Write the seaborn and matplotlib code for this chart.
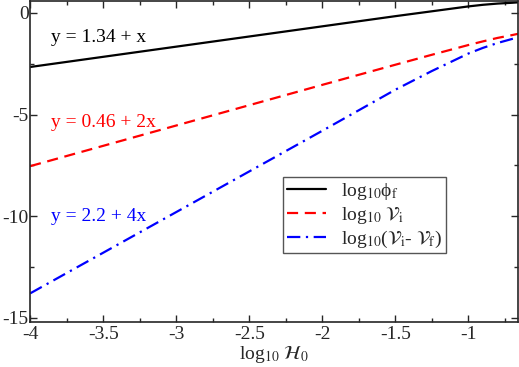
import numpy as np
import pandas as pd
import matplotlib
matplotlib.use("Agg")
import matplotlib.pyplot as plt
import seaborn as sns
from matplotlib.ticker import MultipleLocator, FormatStrFormatter

# values
log_H0 = [-4.0, -3.5, -3.0, -2.5, -2.0, -1.5, -1.25, -1.0, -0.9, -0.8, -0.7, -0.66]
log_phi_f = [-2.66, -2.16, -1.66, -1.16, -0.66, -0.16, 0.08, 0.32, 0.40, 0.46, 0.50, 0.52]
log_V_i = [-7.54, -6.54, -5.54, -4.54, -3.54, -2.55, -2.06, -1.58, -1.40, -1.23, -1.09, -1.03]
log_dV = [-13.8, -11.8, -9.8, -7.8, -5.8, -3.78, -2.86, -2.0, -1.72, -1.48, -1.28, -1.2]

labels = [r'log$_{10}$ϕ$_{\rm f}$',
          r'log$_{10}$ $\mathcal{V}_{\rm i}$',
          r'log$_{10}$($\mathcal{V}_{\rm i}$- $\mathcal{V}_{\rm f}$)']
fits = ['y = 1.34 + x', 'y = 0.46 + 2x', 'y = 2.2 + 4x']
fit_y = [-1.2, -5.4, -10.0]
colors = ['black', 'red', 'blue']
styles = ['-', (0, (5, 3)), (0, (6, 2.5, 1, 2.5))]

sns.set_style("ticks")
plt.rcParams['font.family'] = ['Liberation Serif', 'DejaVu Serif']
plt.rcParams['mathtext.fontset'] = 'stix'
plt.rcParams['axes.unicode_minus'] = False

fig = plt.figure(figsize=(5.19, 3.67), dpi=100)
ax = fig.add_axes([0.058, 0.123, 0.94, 0.875])

for ys, lab, c, ls in zip([log_phi_f, log_V_i, log_dV], labels, colors, styles):
    sns.lineplot(x=log_H0, y=ys, ax=ax, color=c, linestyle=ls, lw=1.6, label=lab)

for txt, yy, c in zip(fits, fit_y, colors):
    ax.text(-3.86, yy, txt, color=c, fontsize=14, va='center', ha='left')

ax.set_xlim(-4, -0.66)
ax.set_ylim(-15.2, 0.6)
ax.xaxis.set_major_locator(MultipleLocator(0.5))
ax.xaxis.set_minor_locator(MultipleLocator(0.25))
ax.xaxis.set_major_formatter(FormatStrFormatter('%g'))
ax.yaxis.set_major_locator(MultipleLocator(5))
ax.yaxis.set_minor_locator(MultipleLocator(2.5))
ax.tick_params(which='both', direction='in', top=True, right=True, labelsize=14, width=1)
ax.tick_params(which='major', length=5)
ax.tick_params(which='minor', length=3)
ax.tick_params(axis='x', pad=3)
ax.tick_params(axis='y', pad=1)
for s in ax.spines.values():
    s.set_linewidth(1.2)

ax.set_xlabel(r'log$_{10}$ $\mathcal{H}_0$', fontsize=14, labelpad=1)
ax.set_ylabel('')

leg = ax.legend(loc='upper left', bbox_to_anchor=(0.518, 0.452), borderaxespad=0,
                fontsize=14, fancybox=False, framealpha=1, edgecolor='#555555',
                handlelength=2.0, labelspacing=0.15, borderpad=0.2)
leg.get_frame().set_linewidth(1)

fig.savefig('out.png', dpi=100)
